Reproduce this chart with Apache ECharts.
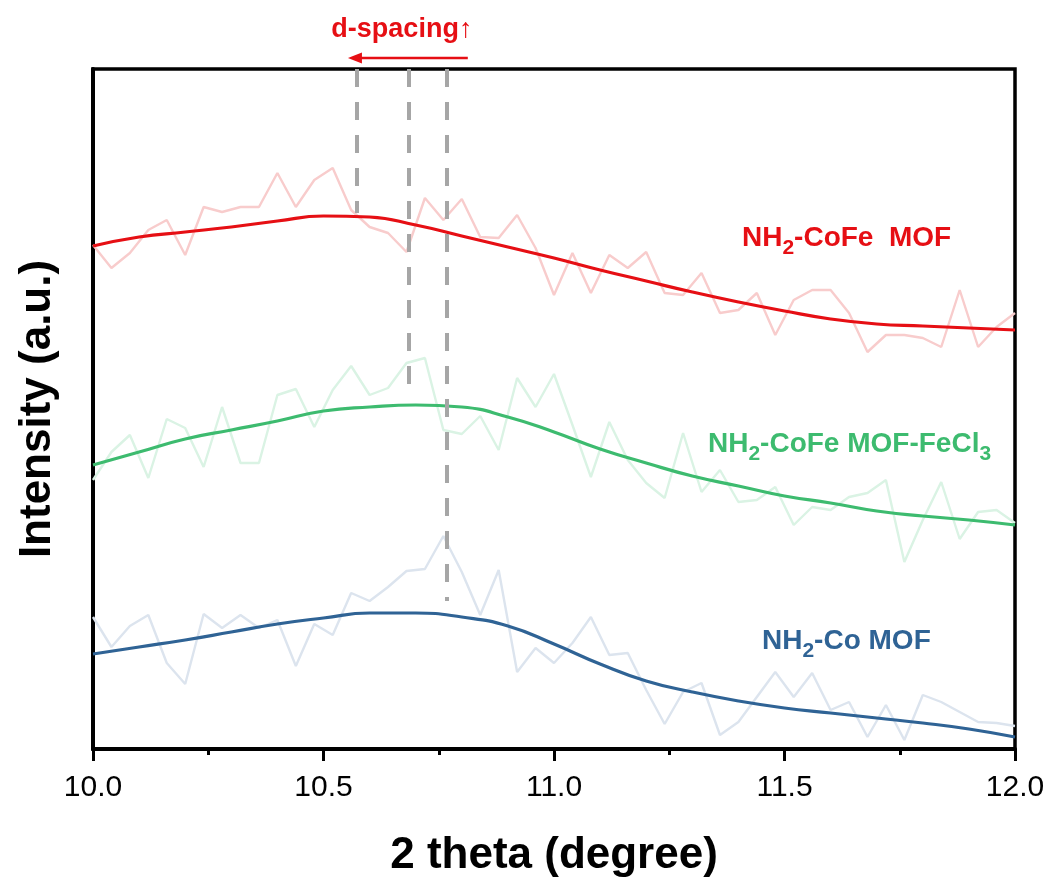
<!DOCTYPE html>
<html>
<head>
<meta charset="utf-8">
<title>XRD 2θ 10–12°</title>
<script src="https://cdn.jsdelivr.net/npm/echarts@6/dist/echarts.min.js"></script>
<style>
  html, body { margin: 0; padding: 0; background: #ffffff; }
  #chart { width: 1054px; height: 877px; }
</style>
</head>
<body>
<div id="chart"></div>
<script>
// Raw scan grid (2θ, degree), step 0.04
const twoThetaRaw = [
  10.00, 10.04, 10.08, 10.12, 10.16, 10.20, 10.24, 10.28, 10.32, 10.36,
  10.40, 10.44, 10.48, 10.52, 10.56, 10.60, 10.64, 10.68, 10.72, 10.76,
  10.80, 10.84, 10.88, 10.92, 10.96, 11.00, 11.04, 11.08, 11.12, 11.16,
  11.20, 11.24, 11.28, 11.32, 11.36, 11.40, 11.44, 11.48, 11.52, 11.56,
  11.60, 11.64, 11.68, 11.72, 11.76, 11.80, 11.84, 11.88, 11.92, 11.96,
  12.00
];

// Raw intensities (a.u., stacked with offsets)
const rawCoFe = [
  504, 481, 496, 519, 529, 494, 542, 537, 542, 542,
  576, 542, 569, 581, 539, 522, 516, 497, 551, 529,
  550, 512, 511, 534, 501, 454, 496, 456, 494, 481,
  497, 456, 454, 476, 436, 439, 456, 414, 449, 459,
  459, 436, 397, 414, 414, 411, 402, 459, 402, 422,
  436
];
const rawCoFeFeCl3 = [
  269, 297, 314, 271, 330, 321, 282, 342, 286, 286,
  354, 360, 322, 359, 383, 354, 361, 386, 391, 319,
  315, 333, 299, 371, 342, 375, 324, 272, 327, 289,
  266, 251, 316, 257, 279, 247, 249, 262, 224, 242,
  239, 252, 256, 269, 187, 229, 267, 210, 237, 239,
  226
];
const rawCo = [
  132, 102, 123, 134,  86,  65, 135, 121, 134, 121,
  129,  83, 125, 114, 156, 148, 162, 178, 180, 213,
  177, 134, 179,  77, 101,  86, 106, 132,  94,  96,
   59,  25,  57,  66,  14,  27,  52,  77,  52,  76,
   39,  47,  12,  44,   9,  54,  47,  37,  27,  26,
   23
];

// Smoothed profiles, sampled every 0.1°
const twoThetaFit = [
  10.0, 10.1, 10.2, 10.3, 10.4, 10.5, 10.6, 10.7, 10.8, 10.9,
  11.0, 11.1, 11.2, 11.3, 11.4, 11.5, 11.6, 11.7, 11.8, 11.9, 12.0
];
const fitCoFe = [503, 512, 517, 522, 528, 533, 532, 524, 513, 502, 491, 479, 468, 457, 447, 438, 430, 425, 423, 421, 419];
const fitCoFeFeCl3 = [284, 297, 310, 319, 328, 338, 342, 344, 342, 332, 317, 300, 286, 273, 263, 253, 246, 238, 233, 229, 224];
const fitCo = [95, 102, 109, 117, 125, 131, 136, 136, 132, 123, 105, 85, 68, 57, 48, 41, 36, 31, 26, 20, 12];

// Peak positions marked by dashed guides, and where each guide stops
const peakPositions = [10.572, 10.685, 10.767];
const guideEnds = [536, 352, 148];

// Tick labels on the 2θ axis
const xTicks = ['10.0', '10.5', '11.0', '11.5', '12.0'];

const FONT = '"Liberation Sans", Arial, sans-serif';
const RED = '#e60f14', GREEN = '#3dbb6f', BLUE = '#2f6395';
const RED_RAW = '#f8cccc', GREEN_RAW = '#daf3e4', BLUE_RAW = '#dce4ee';

const zip = (xs, ys) => xs.map((x, i) => [x, ys[i]]);

function rawSeries(name, ys, color) {
  return {
    name, type: 'line', data: zip(twoThetaRaw, ys),
    showSymbol: false, symbol: 'none', smooth: false,
    lineStyle: { color, width: 2.4 }, z: 2, silent: true
  };
}
function fitSeries(name, ys, color) {
  return {
    name, type: 'line', data: zip(twoThetaFit, ys),
    showSymbol: false, symbol: 'none', smooth: 0.5,
    lineStyle: { color, width: 3.2 }, z: 4, silent: true
  };
}

const chart = echarts.init(document.getElementById('chart'), null, { renderer: 'canvas' });

const guides = peakPositions.map((x, i) => [
  { coord: [x, 680] },
  { coord: [x, guideEnds[i]] }
]);

chart.setOption({
  animation: false,
  backgroundColor: '#ffffff',
  grid: {
    left: 93, right: 39, top: 69, bottom: 128,
    containLabel: false, outerBoundsMode: 'none',
    show: true, borderColor: '#000', borderWidth: 3.5, backgroundColor: 'transparent'
  },
  xAxis: {
    type: 'value', min: 10, max: 12, interval: 0.5,
    name: '2 theta (degree)', nameLocation: 'middle', nameGap: 85,
    nameTextStyle: { fontFamily: FONT, fontSize: 44, fontWeight: 'bold', color: '#000' },
    axisLine: { show: true, lineStyle: { color: '#000', width: 4 } },
    axisTick: { show: true, inside: false, length: 12, lineStyle: { color: '#000', width: 3 } },
    minorTick: { show: true, splitNumber: 2, length: 6, lineStyle: { color: '#000', width: 3 } },
    splitLine: { show: false },
    axisLabel: {
      fontFamily: FONT, fontSize: 30, color: '#000', margin: 24,
      formatter: v => xTicks[Math.round((v - 10) / 0.5)]
    }
  },
  yAxis: {
    type: 'value', min: 0, max: 680,
    name: 'Intensity (a.u.)', nameLocation: 'middle', nameGap: 33, nameRotate: 90,
    nameTextStyle: { fontFamily: FONT, fontSize: 44, fontWeight: 'bold', color: '#000' },
    axisLine: { show: true, lineStyle: { color: '#000', width: 4 } },
    axisTick: { show: false }, axisLabel: { show: false }, splitLine: { show: false }
  },
  series: [
    rawSeries('NH2-CoFe MOF raw', rawCoFe, RED_RAW),
    rawSeries('NH2-CoFe MOF-FeCl3 raw', rawCoFeFeCl3, GREEN_RAW),
    Object.assign(rawSeries('NH2-Co MOF raw', rawCo, BLUE_RAW), {
      markLine: {
        silent: true, symbol: 'none', animation: false,
        label: { show: false },
        lineStyle: { color: '#a6a6a6', width: 4, type: [18, 15] },
        data: guides
      }
    }),
    fitSeries('NH2-CoFe MOF', fitCoFe, RED),
    fitSeries('NH2-CoFe MOF-FeCl3', fitCoFeFeCl3, GREEN),
    fitSeries('NH2-Co MOF', fitCo, BLUE)
  ]
});

// Annotations: sample labels with subscripts, and the d-spacing arrow
function richLabel(text, color) {
  const main = { fontFamily: FONT, fontSize: 28, fontWeight: 'bold', fill: color, verticalAlign: 'top', lineHeight: 34 };
  const sub = { fontFamily: FONT, fontSize: 21, fontWeight: 'bold', fill: color, verticalAlign: 'top', lineHeight: 24, padding: [14, 0, 0, 0] };
  return { text, rich: { m: main, s: sub } };
}

const arrowY = 58;
const arrowFrom = chart.convertToPixel({ xAxisIndex: 0 }, 10.813);
const arrowTo = chart.convertToPixel({ xAxisIndex: 0 }, 10.553);
const textX = chart.convertToPixel({ xAxisIndex: 0 }, 10.67);

chart.setOption({
  graphic: [
    {
      type: 'text', x: textX, y: 30, z: 10,
      style: {
        text: 'd-spacing↑', fill: RED, font: 'bold 27px ' + FONT,
        align: 'center', verticalAlign: 'middle'
      }
    },
    {
      type: 'line', z: 10,
      shape: { x1: arrowFrom, y1: arrowY, x2: arrowTo + 10, y2: arrowY },
      style: { stroke: RED, lineWidth: 2.6 }
    },
    {
      type: 'polygon', z: 10,
      shape: { points: [[arrowTo, arrowY], [arrowTo + 14, arrowY - 5.5], [arrowTo + 14, arrowY + 5.5]] },
      style: { fill: RED }
    },
    {
      type: 'text', x: 742, y: 224, z: 10,
      style: richLabel('{m|NH}{s|2}{m|-CoFe  MOF}', RED)
    },
    {
      type: 'text', x: 708, y: 430, z: 10,
      style: richLabel('{m|NH}{s|2}{m|-CoFe MOF-FeCl}{s|3}', GREEN)
    },
    {
      type: 'text', x: 762, y: 627, z: 10,
      style: richLabel('{m|NH}{s|2}{m|-Co MOF}', BLUE)
    }
  ]
});
</script>
</body>
</html>
